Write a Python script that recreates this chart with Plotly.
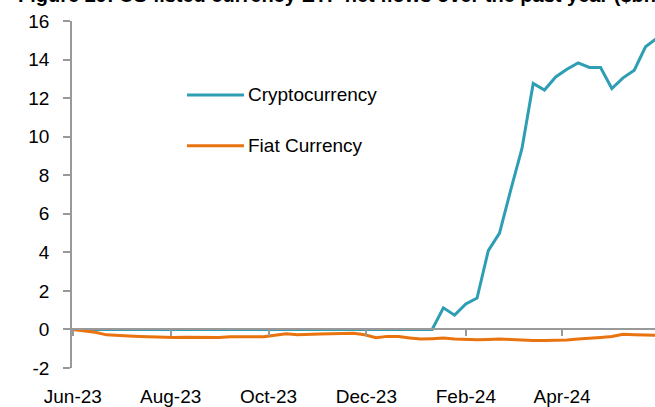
import pandas as pd
import plotly.graph_objects as go

# ---- data (weekly, $bn cumulative net flows) ----
start_date = "2023-06-01"
crypto = [0]*33 + [1.12, 0.74, 1.32, 1.63, 4.09, 5.00, 7.24, 9.39, 12.76, 12.42,
                   13.10, 13.50, 13.83, 13.59, 13.59, 12.50, 13.05, 13.45, 14.66, 15.10]
fiat = [0.00, -0.08, -0.15, -0.28, -0.32, -0.34, -0.36, -0.38, -0.41, -0.42,
        -0.41, -0.42, -0.42, -0.42, -0.38, -0.38, -0.40, -0.38, -0.30, -0.22,
        -0.27, -0.27, -0.24, -0.22, -0.20, -0.20, -0.28, -0.43, -0.36, -0.37,
        -0.44, -0.50, -0.48, -0.45, -0.50, -0.52, -0.53, -0.52, -0.50, -0.52,
        -0.55, -0.57, -0.57, -0.56, -0.55, -0.50, -0.47, -0.42, -0.37, -0.25,
        -0.27, -0.29, -0.31]
dates = pd.date_range(start_date, periods=len(fiat), freq="7D")
tick_dates = ["2023-06-01", "2023-08-01", "2023-10-01", "2023-12-01", "2024-02-01", "2024-04-01"]
tick_labels = ["Jun-23", "Aug-23", "Oct-23", "Dec-23", "Feb-24", "Apr-24"]
y_ticks = [-2, 0, 2, 4, 6, 8, 10, 12, 14, 16]
y_tick_labels = ["-2", "0", "2", "4", "6", "8", "10", "12", "14", "16"]
series_names = ["Cryptocurrency", "Fiat Currency"]
title_text = "Figure 29: US-listed currency ETF net flows over the past year ($bn)"

TEAL = "#2E9EB5"
ORANGE = "#E9730F"
GRAY = "#999999"
FONT = "Liberation Sans, Arial, sans-serif"
FS = 19
x_range = ["2023-05-31 12:00", "2024-05-28 22:00"]

fig = go.Figure()
fig.add_trace(go.Scatter(x=dates, y=crypto, mode="lines", name=series_names[0],
                         line=dict(color=TEAL, width=3), showlegend=False))
fig.add_trace(go.Scatter(x=dates, y=fiat, mode="lines", name=series_names[1],
                         line=dict(color=ORANGE, width=3), showlegend=False))
# empty trace so the label axis is drawn
fig.add_trace(go.Scatter(x=[], y=[], xaxis="x2", yaxis="y", showlegend=False, hoverinfo="skip"))

fig.update_layout(
    width=655, height=407,
    margin=dict(l=72, r=0, t=21, b=39, autoexpand=False),
    paper_bgcolor="white", plot_bgcolor="white",
    font=dict(family=FONT, size=FS, color="black"),
    xaxis=dict(type="date", range=x_range, anchor="free", position=2/18, automargin=False,
               showline=True, linecolor=GRAY, linewidth=1.5,
               ticks="outside", ticklen=6, tickcolor=GRAY, tickwidth=1.5,
               tickvals=tick_dates, showticklabels=False, showgrid=False, zeroline=False),
    xaxis2=dict(type="date", range=x_range, overlaying="x", anchor="y", side="bottom",
                automargin=False,
                showline=False, ticks="outside", ticklen=11, tickcolor="rgba(0,0,0,0)",
                tickvals=tick_dates, ticktext=tick_labels, showgrid=False, zeroline=False,
                tickfont=dict(size=FS, family=FONT, color="black")),
    yaxis=dict(range=[-2, 16], tickvals=y_ticks, ticktext=y_tick_labels,
               showline=True, linecolor=GRAY, linewidth=1.5,
               automargin=False,
               ticks="outside", ticklen=7, tickcolor=GRAY, tickwidth=1.5,
               ticklabelstandoff=10, showgrid=False, zeroline=False,
               tickfont=dict(size=FS, family=FONT, color="black")),
)

# manual legend
def px_x(px):
    return (px - 72) / 583
def px_y(py):
    return (368 - py) / 347

for name, color, py in [(series_names[0], TEAL, 95), (series_names[1], ORANGE, 145.7)]:
    fig.add_shape(type="line", xref="paper", yref="paper",
                  x0=px_x(187), x1=px_x(244), y0=px_y(py), y1=px_y(py),
                  line=dict(color=color, width=3))
    fig.add_annotation(xref="paper", yref="paper", x=px_x(246), y=px_y(py),
                       xanchor="left", yanchor="middle", text=name, showarrow=False,
                       font=dict(size=FS, family=FONT, color="black"))

fig.add_annotation(xref="paper", yref="paper", x=px_x(16), y=1 + (21 + 5) / 347,
                   xanchor="left", yanchor="middle", text="<b>" + title_text + "</b>",
                   showarrow=False, font=dict(size=20, family=FONT, color="black"))

fig.write_html("out.html", config={"displayModeBar": False},
               post_script="document.body.style.margin='0';document.body.style.overflow='hidden';")
